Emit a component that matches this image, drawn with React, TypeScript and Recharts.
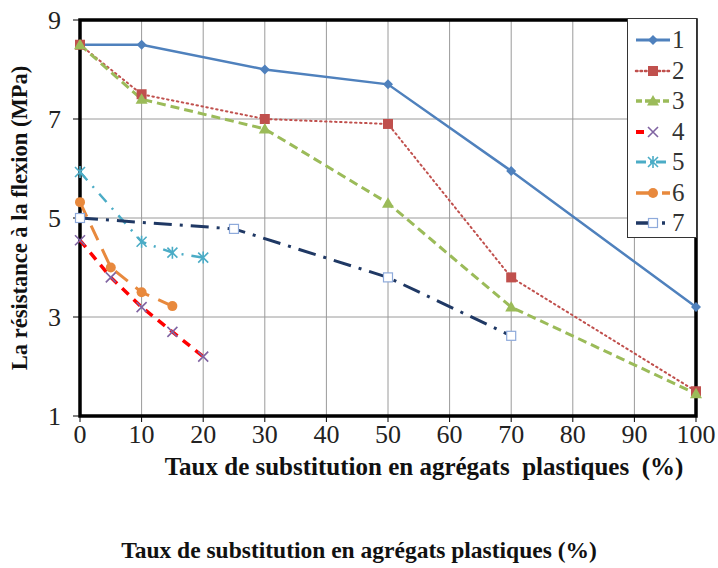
import React from "react";
import {
  LineChart,
  Line,
  XAxis,
  YAxis,
  CartesianGrid,
  ReferenceArea,
} from "recharts";

const X_TICKS = [0, 10, 20, 30, 40, 50, 60, 70, 80, 90, 100];
const Y_TICKS = [1, 3, 5, 7, 9];

const serie1 = [
  { x: 0, y: 8.5 },
  { x: 10, y: 8.5 },
  { x: 30, y: 8.0 },
  { x: 50, y: 7.7 },
  { x: 70, y: 5.95 },
  { x: 100, y: 3.2 },
];
const serie2 = [
  { x: 0, y: 8.5 },
  { x: 10, y: 7.5 },
  { x: 30, y: 7.0 },
  { x: 50, y: 6.9 },
  { x: 70, y: 3.8 },
  { x: 100, y: 1.5 },
];
const serie3 = [
  { x: 0, y: 8.5 },
  { x: 10, y: 7.4 },
  { x: 30, y: 6.8 },
  { x: 50, y: 5.3 },
  { x: 70, y: 3.2 },
  { x: 100, y: 1.45 },
];
const serie4 = [
  { x: 0, y: 4.55 },
  { x: 5, y: 3.8 },
  { x: 10, y: 3.2 },
  { x: 15, y: 2.7 },
  { x: 20, y: 2.2 },
];
const serie5 = [
  { x: 0, y: 5.93 },
  { x: 10, y: 4.52 },
  { x: 15, y: 4.3 },
  { x: 20, y: 4.2 },
];
const serie6 = [
  { x: 0, y: 5.32 },
  { x: 5, y: 4.0 },
  { x: 10, y: 3.5 },
  { x: 15, y: 3.22 },
];
const serie7 = [
  { x: 0, y: 5.0 },
  { x: 25, y: 4.78 },
  { x: 50, y: 3.8 },
  { x: 70, y: 2.62 },
];

type Shape = "diamond" | "square" | "triangle" | "cross" | "star" | "circle" | "openSquare";

interface SerieStyle {
  name: string;
  data: { x: number; y: number }[];
  color: string;
  markColor: string;
  width: number;
  dash?: string;
  legendDash?: string;
  shape: Shape;
}

const SERIES: SerieStyle[] = [
  { name: "1", data: serie1, color: "#4f81bd", markColor: "#4f81bd", width: 2.5, shape: "diamond" },
  { name: "2", data: serie2, color: "#c0504d", markColor: "#c0504d", width: 2, dash: "1.5 3.5", legendDash: "1.5 3", shape: "square" },
  { name: "3", data: serie3, color: "#9bbb59", markColor: "#9bbb59", width: 3, dash: "9 5", legendDash: "6 3", shape: "triangle" },
  { name: "4", data: serie4, color: "#ff0000", markColor: "#8064a2", width: 3.5, dash: "9 7", legendDash: "8 30", shape: "cross" },
  { name: "5", data: serie5, color: "#4bacc6", markColor: "#4bacc6", width: 2.5, dash: "11 8 2 8", legendDash: "10 4 2 4", shape: "star" },
  { name: "6", data: serie6, color: "#e8893d", markColor: "#e8893d", width: 3, dash: "16 10", shape: "circle" },
  { name: "7", data: serie7, color: "#1f3864", markColor: "#8eaadb", width: 3, dash: "18 8 3 8", shape: "openSquare" },
];

const FONT = "'Liberation Serif', 'Times New Roman', serif";

function Marker({ shape, cx, cy, color }: { shape: Shape; cx: number; cy: number; color: string }) {
  switch (shape) {
    case "diamond":
      return <path d={`M${cx},${cy - 5}L${cx + 5},${cy}L${cx},${cy + 5}L${cx - 5},${cy}Z`} fill={color} />;
    case "square":
      return <rect x={cx - 5} y={cy - 5} width={10} height={10} fill={color} />;
    case "triangle":
      return <path d={`M${cx},${cy - 6}L${cx + 6},${cy + 4.5}L${cx - 6},${cy + 4.5}Z`} fill={color} />;
    case "cross":
      return (
        <path
          d={`M${cx - 5},${cy - 5}L${cx + 5},${cy + 5}M${cx + 5},${cy - 5}L${cx - 5},${cy + 5}`}
          stroke={color}
          strokeWidth={1.6}
        />
      );
    case "star":
      return (
        <path
          d={`M${cx - 5},${cy - 5}L${cx + 5},${cy + 5}M${cx + 5},${cy - 5}L${cx - 5},${cy + 5}M${cx},${cy - 6}L${cx},${cy + 6}`}
          stroke={color}
          strokeWidth={1.6}
        />
      );
    case "circle":
      return <circle cx={cx} cy={cy} r={5} fill={color} />;
    case "openSquare":
      return <rect x={cx - 4.5} y={cy - 4.5} width={9} height={9} fill="#fff" stroke={color} strokeWidth={1.2} />;
  }
}

// legend box sits over the top-right corner of the plot
function LegendBox() {
  return (
    <div
      style={{
        position: "absolute",
        left: 627,
        top: 18,
        width: 70,
        height: 220,
        background: "#fff",
        border: "1px solid #333",
        boxSizing: "border-box",
        paddingTop: 6,
      }}
    >
      {SERIES.map((s) => (
        <div key={s.name} style={{ display: "flex", alignItems: "center", height: 30.5 }}>
          <svg width={44} height={20}>
            <line
              x1={8}
              y1={10}
              x2={42}
              y2={10}
              stroke={s.color}
              strokeWidth={s.width + 0.5}
              strokeDasharray={s.legendDash ?? s.dash}
              strokeLinecap={s.name === "2" ? "round" : "butt"}
            />
            <Marker shape={s.shape} cx={25} cy={10} color={s.markColor} />
          </svg>
          <span style={{ fontFamily: FONT, fontSize: 25, color: "#333", lineHeight: "20px" }}>{s.name}</span>
        </div>
      ))}
    </div>
  );
}

export default function App() {
  return (
    <div style={{ position: "absolute", left: 0, top: 0, width: 718, height: 568, background: "#fff" }}>
      <LineChart
        width={718}
        height={568}
        margin={{ top: 20, right: 22, left: 20, bottom: 102 }}
        style={{ fontFamily: FONT }}
      >
        <CartesianGrid stroke="#9a9a9a" strokeWidth={1} />
        <XAxis
          type="number"
          dataKey="x"
          domain={[0, 100]}
          ticks={X_TICKS}
          height={50}
          axisLine={false}
          tickLine={{ stroke: "#000" }}
          tickSize={6}
          tickMargin={3}
          interval={0}
          tick={{ fontSize: 26, fill: "#222", fontFamily: FONT }}
          label={({ viewBox }: any) => (
            <text
              x={viewBox.x + viewBox.width / 2 + 36}
              y={viewBox.y + 59}
              textAnchor="middle"
              fontFamily={FONT}
              fontWeight="bold"
              fontSize={25}
              fill="#111"
              style={{ whiteSpace: "pre" }}
            >
              {"Taux de substitution en agrégats  plastiques  (%)"}
            </text>
          )}
        />
        <YAxis
          type="number"
          domain={[1, 9]}
          ticks={Y_TICKS}
          width={60}
          axisLine={false}
          tickLine={{ stroke: "#000" }}
          tickSize={7}
          tickMargin={12}
          tick={{ fontSize: 26, fill: "#222", fontFamily: FONT }}
          label={{
            value: "La résistance à la flexion (MPa)",
            angle: -90,
            position: "insideLeft",
            offset: -1,
            style: { textAnchor: "middle", fontWeight: "bold", fontSize: 22.5, fill: "#111", fontFamily: FONT },
          }}
        />
        <ReferenceArea x1={0} x2={100} y1={1} y2={9} fill="none" stroke="#000" strokeWidth={3.5} />
        {SERIES.map((s) => (
          <Line
            key={s.name}
            data={s.data}
            dataKey="y"
            name={s.name}
            type="linear"
            stroke={s.color}
            strokeWidth={s.width}
            strokeDasharray={s.dash}
            strokeLinecap={s.name === "2" ? "round" : "butt"}
            isAnimationActive={false}
            dot={(p: any) => (
              <Marker key={`${s.name}-${p.index}`} shape={s.shape} cx={p.cx} cy={p.cy} color={s.markColor} />
            )}
            activeDot={false}
          />
        ))}
      </LineChart>
      <LegendBox />
      <div
        style={{
          position: "absolute",
          left: 0,
          top: 537,
          width: 718,
          textAlign: "center",
          fontFamily: FONT,
          fontWeight: "bold",
          fontSize: 23.5,
          color: "#111",
        }}
      >
        Taux de substitution en agrégats plastiques (%)
      </div>
    </div>
  );
}
